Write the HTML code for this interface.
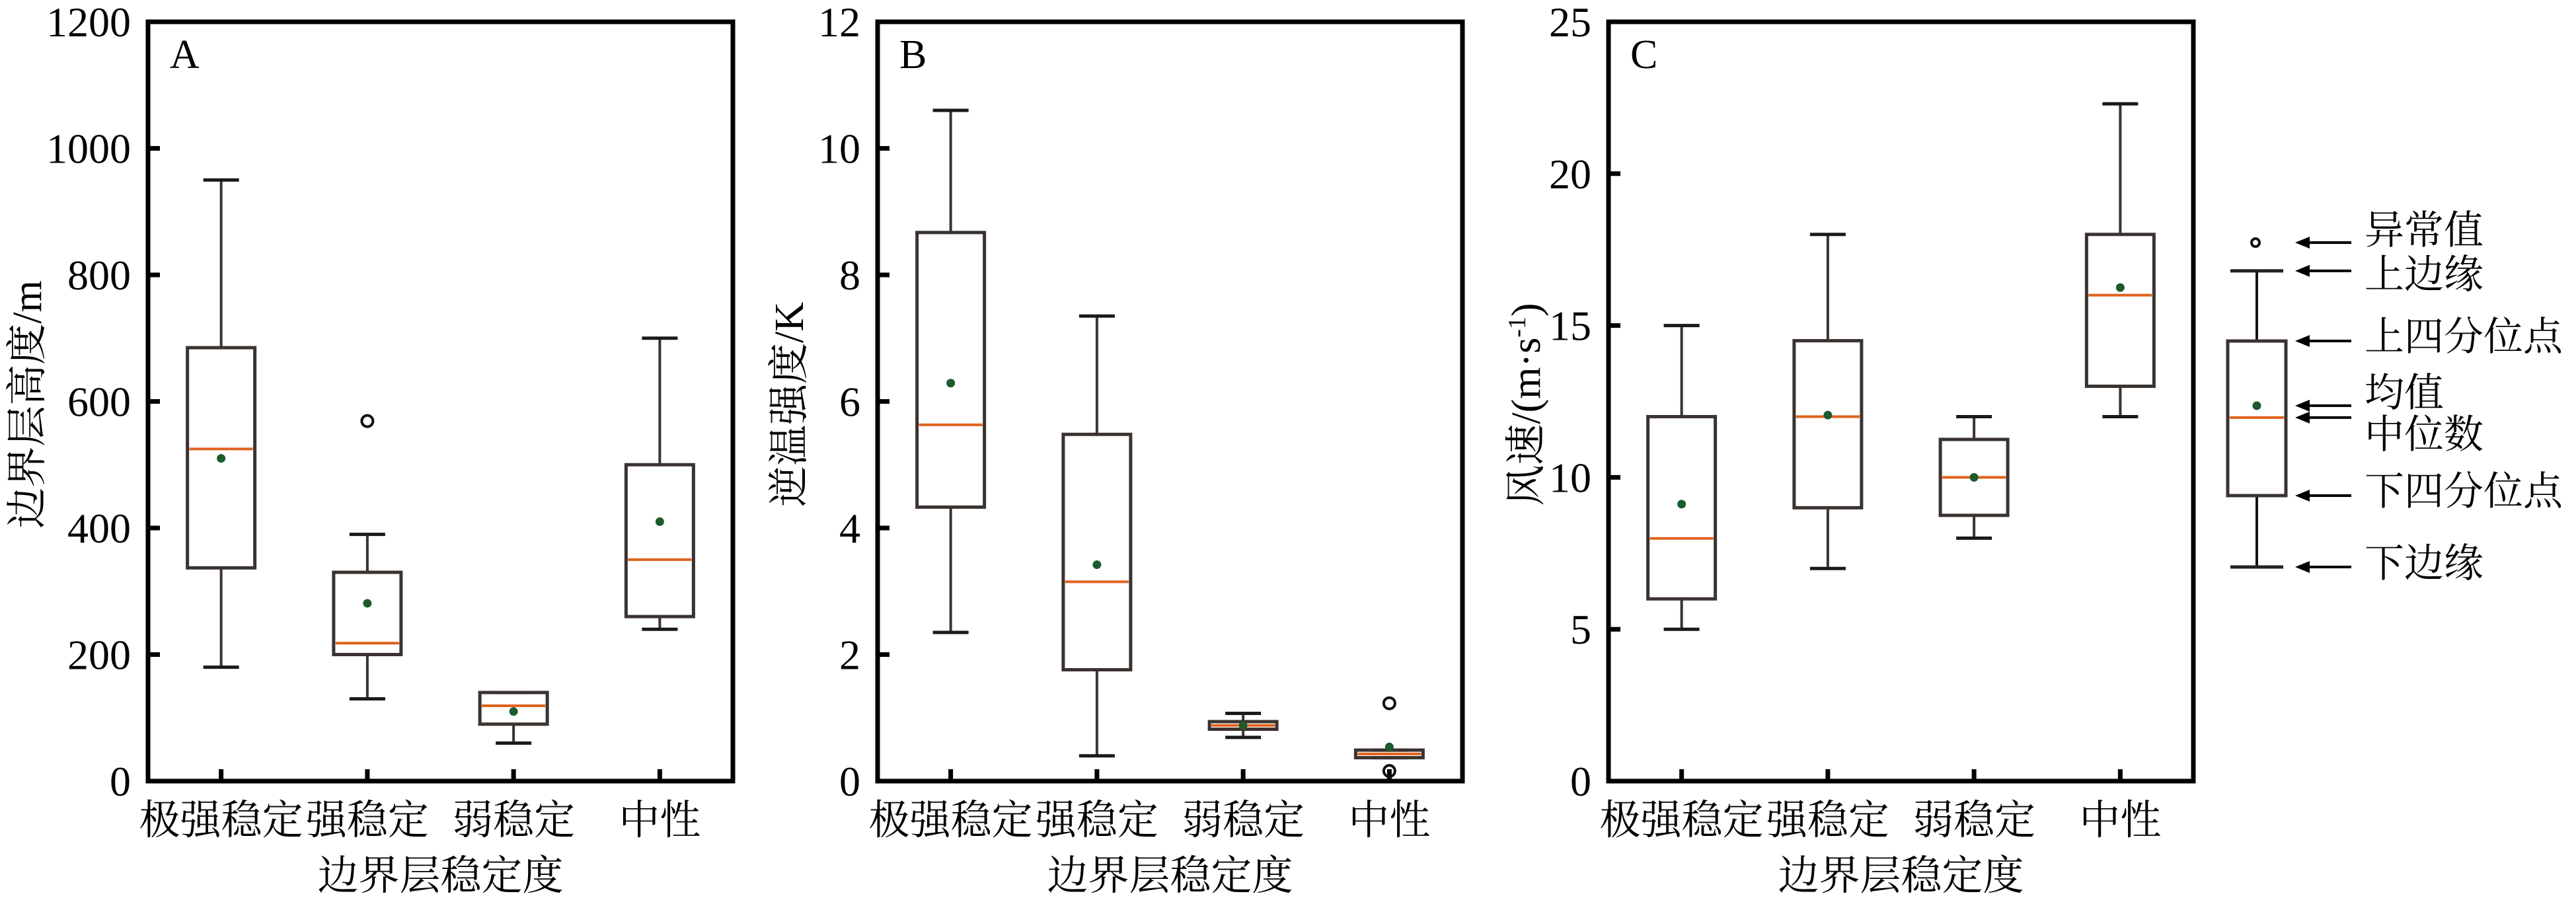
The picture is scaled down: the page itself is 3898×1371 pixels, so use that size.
<!DOCTYPE html>
<html><head><meta charset="utf-8">
<style>
html,body{margin:0;padding:0;background:#fff;}
svg{display:block;}
text{font-family:"Liberation Serif","Noto Serif CJK SC","Noto Sans CJK SC",serif;fill:#000;}
</style></head>
<body>
<svg id="fig" width="3898" height="1371" viewBox="0 0 3898 1371" xmlns="http://www.w3.org/2000/svg"></svg>
<script>
// ---------- data ----------
const categories = ["极强稳定","强稳定","弱稳定","中性"];
// Panel A: boundary layer height (m)
const aLow    = [180, 130, 60, 240];
const aQ1     = [337, 200, 90, 260];
const aMedian = [525, 218, 119, 350];
const aQ3     = [685, 330, 140, 500];
const aHigh   = [950, 390, 140, 700];
const aMean   = [510, 281, 110, 410];
const aOutliers = [[], [569], [], []];
const aTicks = [0,200,400,600,800,1000,1200];
// Panel B: inversion strength (K)
const bLow    = [2.35, 0.40, 0.69, 0.37];
const bQ1     = [4.33, 1.76, 0.82, 0.37];
const bMedian = [5.63, 3.15, 0.88, 0.43];
const bQ3     = [8.67, 5.48, 0.94, 0.49];
const bHigh   = [10.6, 7.35, 1.07, 0.49];
const bMean   = [6.29, 3.42, 0.88, 0.54];
const bOutliers = [[], [], [], [1.23, 0.16]];
const bTicks = [0,2,4,6,8,10,12];
// Panel C: wind speed (m/s)
const cLow    = [5, 7, 8, 12];
const cQ1     = [6, 9, 8.75, 13];
const cMedian = [7.99, 12, 10, 16];
const cQ3     = [12, 14.5, 11.25, 18];
const cHigh   = [15, 18, 12, 22.3];
const cMean   = [9.12, 12.05, 10, 16.25];
const cOutliers = [[], [], [], []];
const cTicks = [0,5,10,15,20,25];
// Legend example box (in panel C units)
const legendStats = {low:7.05, q1:9.4, median:11.97, q3:14.49, high:16.8, mean:12.36, outlier:17.73};
const legendLabels = ["异常值","上边缘","上四分位点","均值","中位数","下四分位点","下边缘"];

// ---------- drawing ----------
const NS = "http://www.w3.org/2000/svg";
const svg = document.getElementById("fig");
function el(tag, attrs, parent){
  const e = document.createElementNS(NS, tag);
  for (const k in attrs) e.setAttribute(k, attrs[k]);
  (parent||svg).appendChild(e);
  return e;
}
const TOP = 33, BOT = 1182;
const BOXC = "#3a3330", MEDC = "#e0621e", MEANC = "#1d5a2c";

function panel(cfg){
  const g = el("g", {});
  
  
  const L = cfg.left, R = cfg.left + 885, W = R - L;
  const ymax = cfg.ticks[cfg.ticks.length-1];
  const y = v => BOT - v/ymax*(BOT-TOP);
  const x = i => L + (i+0.5)*W/categories.length;
  const bw = 102, cw = 54;
  // y ticks and labels
  cfg.ticks.forEach(t => {
    if (t>0 && t<ymax) {
      const tk = el("line", {x1:L, x2:L+18, y1:y(t), y2:y(t), stroke:"#000", "stroke-width":7}, g);
      
      
    }
    const tl = el("text", {x:L-26, y:y(t)+22, "text-anchor":"end", "font-size":64}, g);
    
    
    tl.textContent = t;
  });
  // boxes
  categories.forEach((c,i) => {
    const cx = x(i);
    const tk = el("line", {x1:cx, x2:cx, y1:BOT, y2:BOT-18, stroke:"#000", "stroke-width":7}, g);
    
    
    const xl = el("text", {x:cx, y:1262, "text-anchor":"middle", "font-size":62}, g);
    
    
    xl.textContent = c;
    const bg = el("g", {}, g);
    
    
    el("line", {x1:cx, x2:cx, y1:y(cfg.q3[i]), y2:y(cfg.high[i]), stroke:BOXC, "stroke-width":4}, bg);
    el("line", {x1:cx, x2:cx, y1:y(cfg.q1[i]), y2:y(cfg.low[i]), stroke:BOXC, "stroke-width":4}, bg);
    el("line", {x1:cx-cw/2, x2:cx+cw/2, y1:y(cfg.high[i]), y2:y(cfg.high[i]), stroke:"#1a1a1a", "stroke-width":5}, bg);
    el("line", {x1:cx-cw/2, x2:cx+cw/2, y1:y(cfg.low[i]), y2:y(cfg.low[i]), stroke:"#1a1a1a", "stroke-width":5}, bg);
    el("rect", {x:cx-bw/2, y:y(cfg.q3[i]), width:bw, height:Math.max(1,y(cfg.q1[i])-y(cfg.q3[i])), fill:"none", stroke:BOXC, "stroke-width":5}, bg);
    el("line", {x1:cx-bw/2+3, x2:cx+bw/2-3, y1:y(cfg.med[i]), y2:y(cfg.med[i]), stroke:MEDC, "stroke-width":4}, bg);
    el("circle", {cx:cx, cy:y(cfg.mean[i]), r:6.5, fill:MEANC}, bg);
    cfg.out[i].forEach(o => {
      const oc = el("circle", {cx:cx, cy:y(o), r:8.5, fill:"none", stroke:"#111", "stroke-width":4}, bg);
      
      
    });
  });
  // frame
  const fr = el("rect", {x:L, y:TOP, width:W, height:BOT-TOP, fill:"none", stroke:"#000", "stroke-width":7}, g);
  
  
  const lt = el("text", {x:L+33, y:103, "font-size":62}, g);
  
  
  lt.textContent = cfg.letter;
  const xt = el("text", {x:(L+R)/2, y:1346, "text-anchor":"middle", "font-size":62}, g);
  
  
  xt.textContent = "边界层稳定度";
  const yt = el("text", {x:0, y:0, "text-anchor":"middle", "font-size":62, transform:"translate("+(cfg.titleX+22)+",612) rotate(-90)"}, g);
  
  
  if (cfg.sup) {
    yt.appendChild(document.createTextNode(cfg.title));
    const ts = el("tspan", {"font-size":38, dy:-22}, yt);
    ts.textContent = "-1";
    const ts2 = el("tspan", {dy:22}, yt);
    ts2.textContent = ")";
  } else yt.textContent = cfg.title;
  return y;
}

panel({name:"panel-a-height", left:224, letter:"A", titleX:40, title:"边界层高度/m", ticks:aTicks,
  low:aLow,q1:aQ1,med:aMedian,q3:aQ3,high:aHigh,mean:aMean,out:aOutliers});
panel({name:"panel-b-inversion", left:1328, letter:"B", titleX:1193, title:"逆温强度/K", ticks:bTicks,
  low:bLow,q1:bQ1,med:bMedian,q3:bQ3,high:bHigh,mean:bMean,out:bOutliers});
const yC = panel({name:"panel-c-wind", left:2434, letter:"C", titleX:2308, title:"风速/(m·s", sup:true, ticks:cTicks,
  low:cLow,q1:cQ1,med:cMedian,q3:cQ3,high:cHigh,mean:cMean,out:cOutliers});

// ---------- legend ----------
const lg = el("g", {});


const lx = 3415, lbw = 88, lcw = 80;
const s = legendStats;
el("line", {x1:lx, x2:lx, y1:yC(s.q3), y2:yC(s.high), stroke:"#111", "stroke-width":4}, lg);
el("line", {x1:lx, x2:lx, y1:yC(s.q1), y2:yC(s.low), stroke:"#111", "stroke-width":4}, lg);
el("line", {x1:lx-lcw/2, x2:lx+lcw/2, y1:yC(s.high), y2:yC(s.high), stroke:"#222", "stroke-width":5}, lg);
el("line", {x1:lx-lcw/2, x2:lx+lcw/2, y1:yC(s.low), y2:yC(s.low), stroke:"#222", "stroke-width":5}, lg);
el("rect", {x:lx-lbw/2, y:yC(s.q3), width:lbw, height:yC(s.q1)-yC(s.q3), fill:"none", stroke:BOXC, "stroke-width":5}, lg);
el("line", {x1:lx-lbw/2+3, x2:lx+lbw/2-3, y1:yC(s.median), y2:yC(s.median), stroke:MEDC, "stroke-width":4}, lg);
el("circle", {cx:lx, cy:yC(s.mean), r:6.5, fill:MEANC}, lg);
el("circle", {cx:lx-2, cy:yC(s.outlier), r:6, fill:"none", stroke:"#111", "stroke-width":4}, lg);
const arrowVals = [s.outlier, s.high, s.q3, s.mean, s.median, s.q1, s.low];
const textY = [348, 415, 509, 594, 657, 743, 852];
arrowVals.forEach((v,i) => {
  const ay = yC(v);
  const a = el("g", {}, lg);
  
  
  el("line", {x1:3490, x2:3558, y1:ay, y2:ay, stroke:"#000", "stroke-width":4}, a);
  el("polygon", {points:(3473)+","+ay+" "+(3495)+","+(ay-9)+" "+(3495)+","+(ay+9), fill:"#000"}, a);
  const t = el("text", {x:3578, y:textY[i]+21, "font-size":60}, lg);
  
  
  t.textContent = legendLabels[i];
});
</script>
</body></html>
